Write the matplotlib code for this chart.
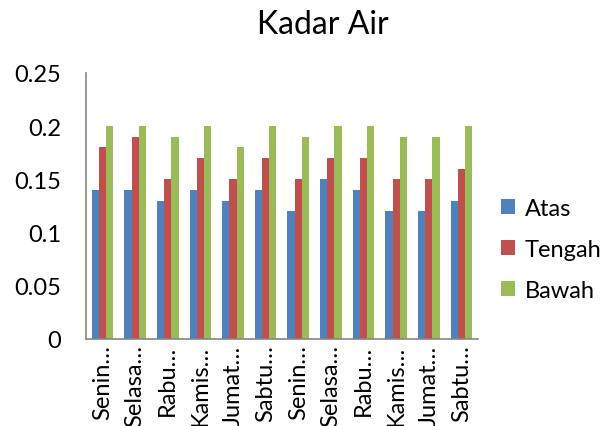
import matplotlib
matplotlib.use("Agg")
import matplotlib.pyplot as plt
import numpy as np

categories = ["Senin…", "Selasa…", "Rabu…", "Kamis…", "Jumat…", "Sabtu…",
              "Senin…", "Selasa…", "Rabu…", "Kamis…", "Jumat…", "Sabtu…"]
atas = [0.14, 0.14, 0.13, 0.14, 0.13, 0.14, 0.12, 0.15, 0.14, 0.12, 0.12, 0.13]
tengah = [0.18, 0.19, 0.15, 0.17, 0.15, 0.17, 0.15, 0.17, 0.17, 0.15, 0.15, 0.16]
bawah = [0.20, 0.20, 0.19, 0.20, 0.18, 0.20, 0.19, 0.20, 0.20, 0.19, 0.19, 0.20]
yticks = [0, 0.05, 0.1, 0.15, 0.2, 0.25]
ytick_labels = ["0", "0.05", "0.1", "0.15", "0.2", "0.25"]

plt.rcParams['font.family'] = ['Lato', 'DejaVu Sans']

fig = plt.figure(figsize=(6.07, 4.27), dpi=100)
ax = fig.add_axes([0.142, 0.204, 0.645, 0.623])

x = np.arange(len(categories))
w = 0.22
ax.bar(x - w, atas, w, color="#4F81BD", label="Atas")
ax.bar(x, tengah, w, color="#C0504D", label="Tengah")
ax.bar(x + w, bawah, w, color="#9BBB59", label="Bawah")

ax.set_xlim(-0.5, len(categories) - 0.5)
ax.set_ylim(0, 0.25)
ax.set_yticks(yticks)
ax.set_yticklabels(ytick_labels, fontsize=17)
ax.set_xticks(x)
ax.set_xticklabels(categories, rotation=90, fontsize=17)
ax.tick_params(axis='y', length=0, pad=18)
ax.tick_params(axis='x', length=0, pad=4)
for s in ["top", "right"]:
    ax.spines[s].set_visible(False)
for s in ["left", "bottom"]:
    ax.spines[s].set_color("#868686")
    ax.spines[s].set_linewidth(1.2)

fig.text(0.532, 0.942, "Kadar Air", ha="center", va="center", fontsize=23)

ax.legend(loc="center left", bbox_to_anchor=(1.0, 0.337), frameon=False,
          fontsize=17, handlelength=0.6, handleheight=0.6, labelspacing=0.85,
          handletextpad=0.4, borderaxespad=0.6)

fig.savefig("out.png", dpi=100)
